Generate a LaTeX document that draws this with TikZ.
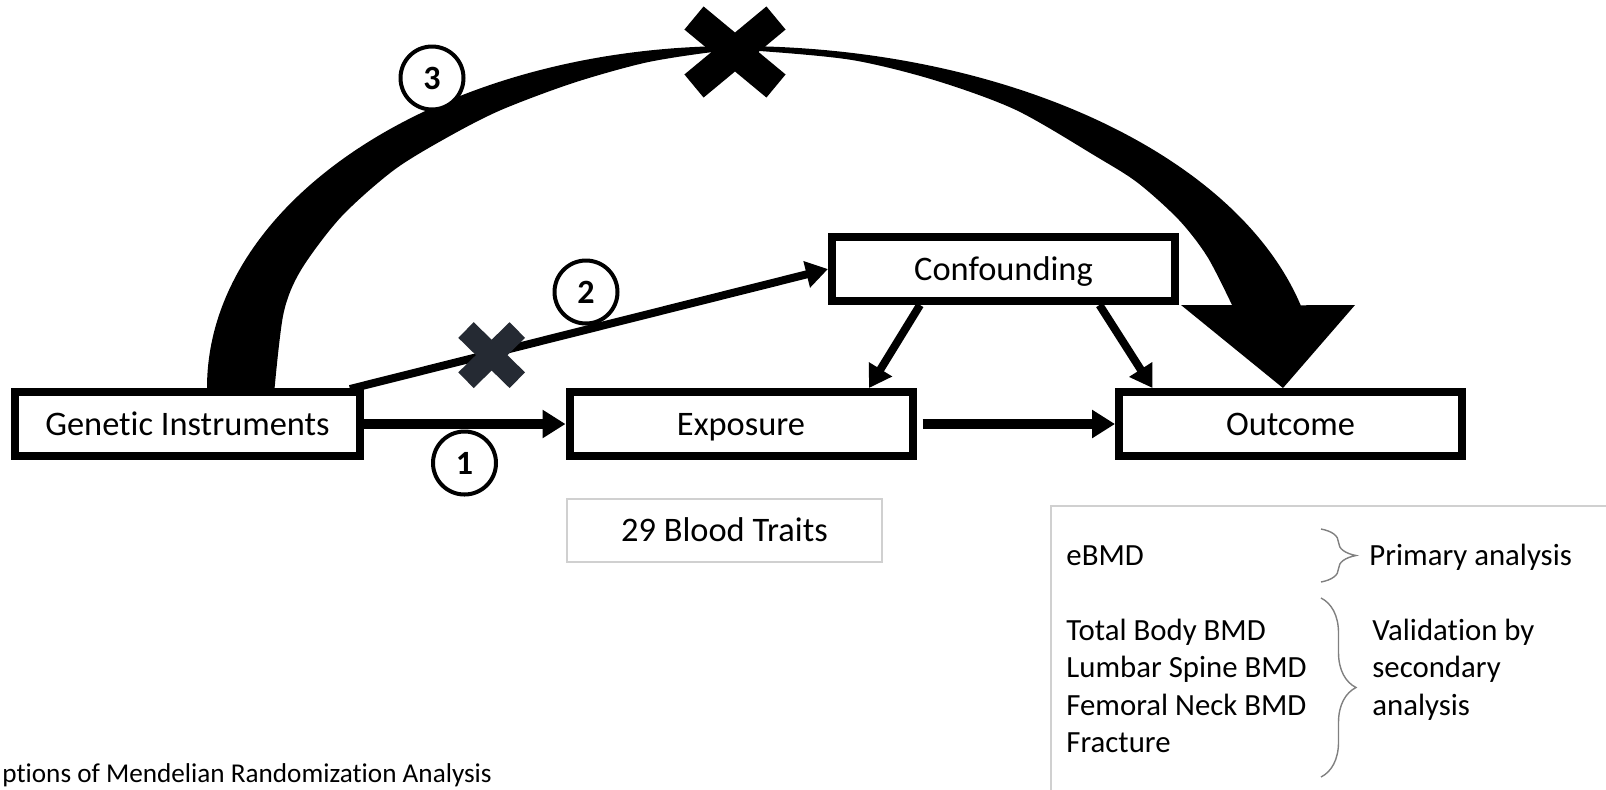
\documentclass[tikz,border=0pt]{standalone}
\usepackage{fontspec}
\setmainfont{Carlito}[Ligatures=NoCommon]
\usetikzlibrary{arrows.meta,calc,decorations.pathreplacing}
\definecolor{framegrey}{HTML}{D0D0D0}
\definecolor{bracegrey}{HTML}{808080}
\definecolor{xslate}{HTML}{252A33}
\tikzset{box/.style={draw, line width=4pt, minimum width=171.5pt,
        minimum height=32pt, inner sep=0pt, text height=14.5pt,
        text depth=3.5pt, font=\fontsize{17.2}{20}\selectfont},
    trait/.style={draw=framegrey, line width=1pt, minimum width=157.5pt,
        minimum height=31.5pt, inner sep=0pt, text height=14.5pt,
        text depth=3.5pt, font=\fontsize{17.2}{20}\selectfont},
    greybox/.style={draw=framegrey, line width=1pt},
    num/.style={circle, draw, fill=white, line width=2pt, minimum size=31.5pt,
        inner sep=0pt, font=\bfseries\fontsize{17}{19}\selectfont},
    thinarr/.style={line width=4pt, -{Triangle[length=11pt,width=13pt]}},
    thickarr/.style={line width=5pt, -{Triangle[length=11.5pt,width=13.5pt]}},
    legtxt/.style={anchor=base west, inner sep=0pt,
        font=\fontsize{15.4}{18}\selectfont},
    rbrace/.style={draw=bracegrey, line width=0.7pt, decorate,
        decoration={brace, amplitude=17.5pt}},
    }

\begin{document}
\begin{tikzpicture}[x=0.5pt,y=-0.5pt]
\useasboundingbox (0,0) rectangle (1606,789);
\clip (0,0) rectangle (1606,789);

% the four boxes
\node[box, minimum width=172.5pt] (gen) at (187.5,424) {Genetic Instruments};
\node[box] (exp) at (741,424) {Exposure};
\node[box] (out) at (1290.5,424) {Outcome};
\node[box] (conf) at (1003.5,269) {Confounding};
\node[trait] (blood) at (724.5,530.5) {29 Blood Traits};

% assumption 3: wide bent arrow
\fill (207,388) arc[start angle=180, end angle=270, x radius=528, y radius=342]
    arc[start angle=270, end angle=346, x radius=583, y radius=342]
    -- (1355,305) -- (1283,388) -- (1181,305) -- (1232,305)
    -- plot[smooth] coordinates {(1232,305) (1207.5,257) (1179,220) (1138,183)
        (1097,157) (1016,110) (934,80) (852,60) (760,51) (735,51) (705,53)
        (644,63) (573,83) (501,110) (448,137) (394,170) (341,217) (301,270)
        (283.6,313) (274.6,388)}
    -- cycle;

% arrows
\draw[thickarr] (gen.east) -- (exp.west);
\draw[thickarr] ($(exp.east)+(6,0)$) -- (out.west);
\draw[thinarr] ($(gen.north east)+(-14,1)$) -- (conf.west);
\draw[thinarr] ($(conf.south)+(-83.5,0)$) -- ($(exp.north)+(128,0)$);
\draw[thinarr] ($(conf.south)+(96,0)$) -- ($(out.north)+(-138,0)$);

% crosses
\draw[line width=15pt] (694,18) -- (776,86) (694,86) -- (776,18);
\draw[xslate, line width=11pt] (466,330) -- (517.3,380.2) (466,380.2) -- (517.3,330);

% numbered assumptions
\node[num] (n3) at (432,78) {3};
\node[num] (n2) at (586,292) {2};
\node[num] (n1) at (464.5,463) {1};

% outcome list
\draw[greybox] (1051,506) rectangle (1640,820);
\node[legtxt] (ebmd) at (1066,565) {eBMD};
\node[legtxt] (prim) at (1369,565) {Primary analysis};
\foreach \t [count=\i] in {Total Body BMD, Lumbar Spine BMD, Femoral Neck BMD, Fracture}
    \node[legtxt] (sec\i) at (1066,602.5+37.5*\i) {\t};
\foreach \t [count=\i] in {Validation by, secondary, analysis}
    \node[legtxt] (val\i) at (1372,602.5+37.5*\i) {\t};
\draw[rbrace] (1321,529) -- (1321,582);
\draw[rbrace] (1321,598) -- (1321,777);

\node[anchor=base west, inner sep=0pt, font=\fontsize{13.6}{16}\selectfont]
    (cap) at (2,782) {ptions of Mendelian Randomization Analysis};
\end{tikzpicture}
\end{document}
